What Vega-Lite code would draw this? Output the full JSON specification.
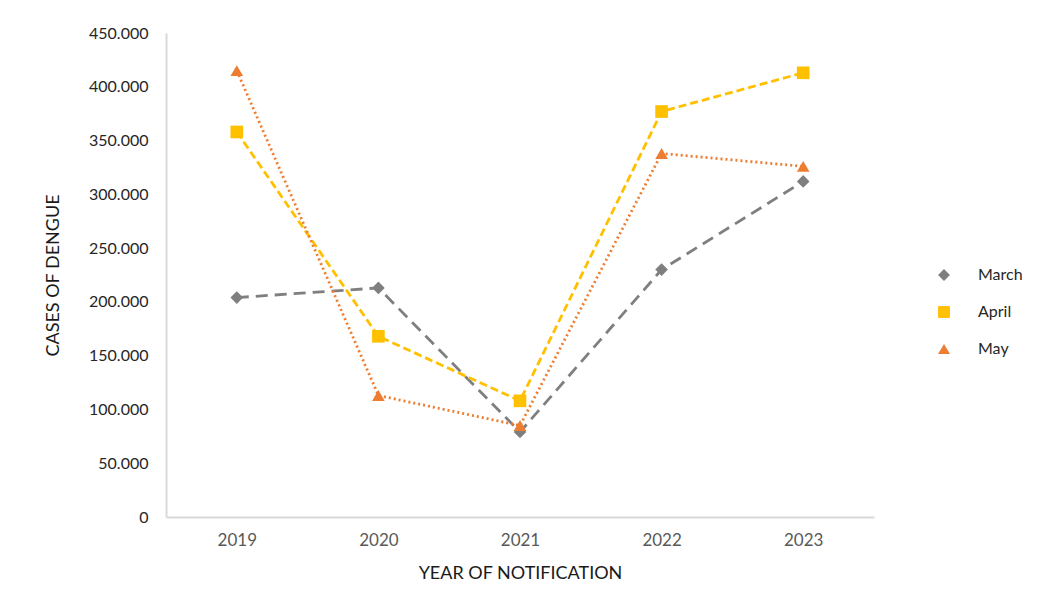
{
  "$schema": "https://vega.github.io/schema/vega-lite/v6.json",
  "width": 708,
  "height": 484,
  "autosize": {"type": "none"},
  "padding": {"left": 166, "top": 33, "right": 173, "bottom": 94},
  "background": "white",
  "config": {
    "font": "Lato",
    "view": {"stroke": null},
    "locale": {"number": {"decimal": ",", "thousands": ".", "grouping": [3], "currency": ["R$", ""]}}
  },
  "data": {
    "values": [
      {"year": "2019", "month": "March", "cases": 204000},
      {"year": "2020", "month": "March", "cases": 213000},
      {"year": "2021", "month": "March", "cases": 79000},
      {"year": "2022", "month": "March", "cases": 230000},
      {"year": "2023", "month": "March", "cases": 312000},
      {"year": "2019", "month": "April", "cases": 358000},
      {"year": "2020", "month": "April", "cases": 168000},
      {"year": "2021", "month": "April", "cases": 108000},
      {"year": "2022", "month": "April", "cases": 377000},
      {"year": "2023", "month": "April", "cases": 413000},
      {"year": "2019", "month": "May", "cases": 415000},
      {"year": "2020", "month": "May", "cases": 113000},
      {"year": "2021", "month": "May", "cases": 85000},
      {"year": "2022", "month": "May", "cases": 338000},
      {"year": "2023", "month": "May", "cases": 326000}
    ]
  },
  "encoding": {
    "x": {
      "field": "year", "type": "ordinal",
      "scale": {"type": "point", "padding": 0.5},
      "axis": {
        "title": "YEAR OF NOTIFICATION", "titleFontSize": 18, "titleFontWeight": "normal", "titleColor": "#1a1a1a", "titlePadding": 16,
        "labelAngle": 0, "labelFontSize": 17, "labelColor": "#595959", "labelPadding": 15,
        "ticks": false, "domainColor": "#d9d9d9", "domainWidth": 2, "grid": false
      }
    },
    "y": {
      "field": "cases", "type": "quantitative",
      "scale": {"domain": [0, 450000]},
      "axis": {
        "title": "CASES OF DENGUE", "titleFontSize": 18, "titleFontWeight": "normal", "titleColor": "#1a1a1a", "titlePadding": 26,
        "format": ",d", "values": [0, 50000, 100000, 150000, 200000, 250000, 300000, 350000, 400000, 450000],
        "labelFontSize": 16, "labelColor": "#262626", "labelPadding": 18,
        "ticks": false, "domainColor": "#d9d9d9", "domainWidth": 2, "grid": false
      }
    },
    "color": {
      "field": "month", "type": "nominal",
      "scale": {"domain": ["March", "April", "May"], "range": ["#7f7f7f", "#ffc000", "#ed7d31"]},
      "legend": {
        "title": null, "orient": "none", "legendX": 770, "legendY": 234,
        "labelFontSize": 16, "labelColor": "#262626", "labelOffset": 26,
        "rowPadding": 21, "symbolSize": 140, "symbolStrokeWidth": 0
      }
    }
  },
  "layer": [
    {
      "mark": {"type": "line", "strokeWidth": 2.8},
      "encoding": {
        "strokeDash": {
          "field": "month", "type": "nominal",
          "scale": {"domain": ["March", "April", "May"], "range": [[12, 7], [8, 4], [2, 3]]},
          "legend": null
        }
      }
    },
    {
      "mark": {"type": "point", "filled": true, "opacity": 1, "size": 160},
      "encoding": {
        "shape": {
          "field": "month", "type": "nominal",
          "scale": {"domain": ["March", "April", "May"], "range": ["diamond", "square", "triangle-up"]}
        }
      }
    }
  ]
}
